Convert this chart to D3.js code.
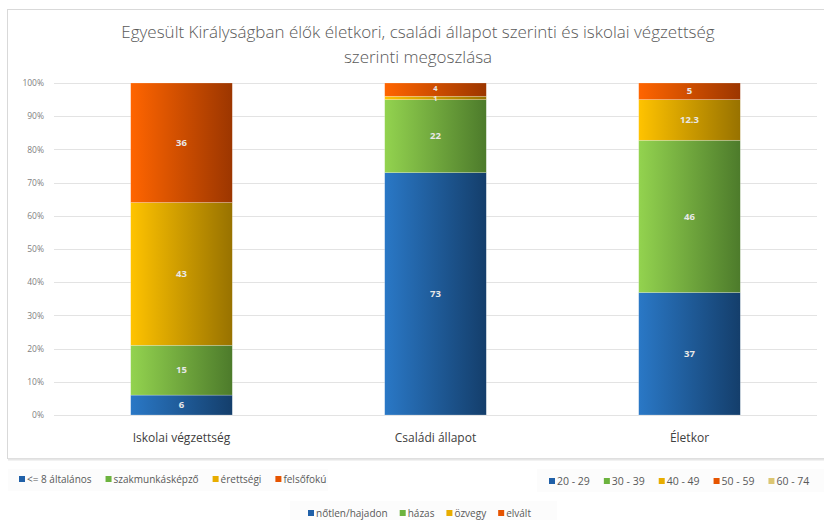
<!DOCTYPE html>
<html>
<head>
<meta charset="utf-8">
<script src="https://cdn.jsdelivr.net/npm/d3@7"></script>
<style>
  html, body { margin: 0; padding: 0; background: #fff; }
  svg { display: block; }
</style>
</head>
<body>
<div id="chart"></div>
<script>
// ---------- data ----------
const titleLines = [
  "Egyesült Királyságban élők életkori, családi állapot szerinti és iskolai végzettség",
  "szerinti megoszlása"
];
const categories = ["Iskolai végzettség", "Családi állapot", "Életkor"];

const eduKeys = ["<= 8 általános", "szakmunkásképző", "érettségi", "felsőfokú"];
const eduValues = [6, 15, 43, 36];

const famKeys = ["nőtlen/hajadon", "házas", "özvegy", "elvált"];
const famValues = [73, 22, 1, 4];

const ageKeys = ["20 - 29", "30 - 39", "40 - 49", "50 - 59", "60 - 74"];
const ageValues = [37, 46, 12.3, 5, 0];

const yTicks = [0, 0.1, 0.2, 0.3, 0.4, 0.5, 0.6, 0.7, 0.8, 0.9, 1];

// ---------- styles ----------
const grads = [
  ["#2a78c6", "#143e6b"],   // blue
  ["#93d34f", "#4d7b2b"],   // green
  ["#ffc300", "#987200"],   // yellow
  ["#ff6500", "#9c3600"],   // orange
  ["#ead27a", "#a8924a"]    // tan
];
const swatch = ["#2060a8", "#6cb33e", "#e8ad00", "#e65400", "#dcc672"];

const W = 824, H = 520;
const svg = d3.select("#chart").append("svg").attr("width", W).attr("height", H);
const defs = svg.append("defs");
grads.forEach((g, i) => {
  const lg = defs.append("linearGradient").attr("id", "g" + i)
    .attr("x1", "0%").attr("x2", "100%").attr("y1", "0%").attr("y2", "0%");
  lg.append("stop").attr("offset", "0%").attr("stop-color", g[0]);
  lg.append("stop").attr("offset", "100%").attr("stop-color", g[1]);
});

svg.append("rect").attr("width", W).attr("height", H).attr("fill", "#fff");

// chart frame (runs off the right edge)
svg.append("rect").attr("x", 7.5).attr("y", 9.5).attr("width", 840).attr("height", 449)
  .attr("fill", "#fff").attr("stroke", "#d9d9d9");
svg.append("line").attr("x1", 8).attr("x2", W).attr("y1", 459.5).attr("y2", 459.5)
  .attr("stroke", "#e6e6e6").attr("stroke-width", 2);

// title
svg.append("g").selectAll("text").data(titleLines).enter().append("text")
  .attr("x", 418).attr("y", (d, i) => 38 + i * 25)
  .attr("text-anchor", "middle")
  .style("font-family", "'Open Sans', 'Noto Sans', sans-serif")
  .style("font-weight", 300).style("font-size", "17px")
  .attr("fill", "#595959")
  .text(d => d);

// scales
const y = d3.scaleLinear().domain([0, 1]).range([415, 83]);
const x = d3.scaleBand().domain(categories).range([54.5, 816.5])
  .paddingInner(0.6).paddingOuter(0.3);

// gridlines
svg.append("g").selectAll("line").data(yTicks).enter().append("line")
  .attr("x1", 54).attr("x2", 817)
  .attr("y1", d => Math.round(y(d)) + 0.5).attr("y2", d => Math.round(y(d)) + 0.5)
  .attr("stroke", "#e3e3e3");

// y axis labels
const yAxis = svg.append("g").attr("transform", "translate(44,0)")
  .call(d3.axisLeft(y).tickValues(yTicks).tickFormat(d3.format(".0%")).tickSize(0).tickPadding(0));
yAxis.select(".domain").remove();
yAxis.selectAll("text")
  .style("font-family", "'Open Sans', 'DejaVu Sans', sans-serif")
  .style("font-size", "8.5px").attr("fill", "#7f7f7f");

// bars
const groups = [
  { cat: categories[0], keys: eduKeys, values: eduValues },
  { cat: categories[1], keys: famKeys, values: famValues },
  { cat: categories[2], keys: ageKeys, values: ageValues }
];

groups.forEach(grp => {
  const total = d3.sum(grp.values);
  let acc = 0;
  const segs = grp.values.map((v, i) => {
    const s = { i, v, y0: acc / total, y1: (acc + v) / total };
    acc += v;
    return s;
  }).filter(s => s.v > 0);

  // label positions, nudged apart when segments are too thin
  segs.forEach(s => { s.small = (s.y1 - s.y0) < 0.045; s.ly = y((s.y0 + s.y1) / 2); });
  for (let k = 1; k < segs.length; k++) {
    const lo = segs[k - 1], hi = segs[k];
    const gap = lo.ly - hi.ly, need = 10;
    if (gap < need) { const d = (need - gap) / 2; lo.ly += d; hi.ly -= d; }
  }

  const g = svg.append("g");
  g.selectAll("rect").data(segs).enter().append("rect")
    .attr("x", x(grp.cat)).attr("width", x.bandwidth())
    .attr("y", s => y(s.y1)).attr("height", s => y(s.y0) - y(s.y1))
    .attr("fill", s => `url(#g${s.i})`)
    .attr("stroke", "rgba(255,255,255,0.35)").attr("stroke-width", 0.6);
  g.selectAll("text").data(segs).enter().append("text")
    .attr("x", x(grp.cat) + x.bandwidth() / 2)
    .attr("y", s => s.ly + (s.small ? 2.6 : 3.2))
    .attr("text-anchor", "middle")
    .style("font-family", "'Open Sans', 'DejaVu Sans', sans-serif")
    .style("font-weight", 700).style("font-size", s => s.small ? "7.5px" : "9.5px")
    .attr("fill", "#e8e8e8")
    .text(s => s.v);
});

// category labels
svg.append("g").selectAll("text").data(categories).enter().append("text")
  .attr("x", d => x(d) + x.bandwidth() / 2).attr("y", 442)
  .attr("text-anchor", "middle")
  .style("font-family", "'Open Sans', 'Noto Sans', sans-serif")
  .style("font-size", "12px").attr("fill", "#404040")
  .text(d => d);

// legends
function legend(keys, x0, yMid, box, fs, gap) {
  const lg = svg.append("g");
  lg.append("rect").attr("x", box[0]).attr("y", box[1]).attr("width", box[2]).attr("height", box[3])
    .attr("fill", "#fcfcfc");
  let cx = x0;
  keys.forEach((k, i) => {
    lg.append("rect").attr("x", cx).attr("y", yMid - 3).attr("width", 6).attr("height", 6)
      .attr("fill", swatch[i]);
    const t = lg.append("text").attr("x", cx + 8).attr("y", yMid + 3.6)
      .style("font-family", "'Open Sans', 'Noto Sans', sans-serif")
      .style("font-size", fs + "px").attr("fill", "#595959")
      .text(k);
    cx += 8 + t.node().getComputedTextLength() + gap;
  });
}
legend(eduKeys, 19, 479, [8, 469, 320, 22], 10, 14);
legend(famKeys, 308, 513, [290, 501, 267, 19], 10, 12);
legend(ageKeys, 549, 481, [537, 469, 290, 23], 10.5, 14);
</script>
</body>
</html>
